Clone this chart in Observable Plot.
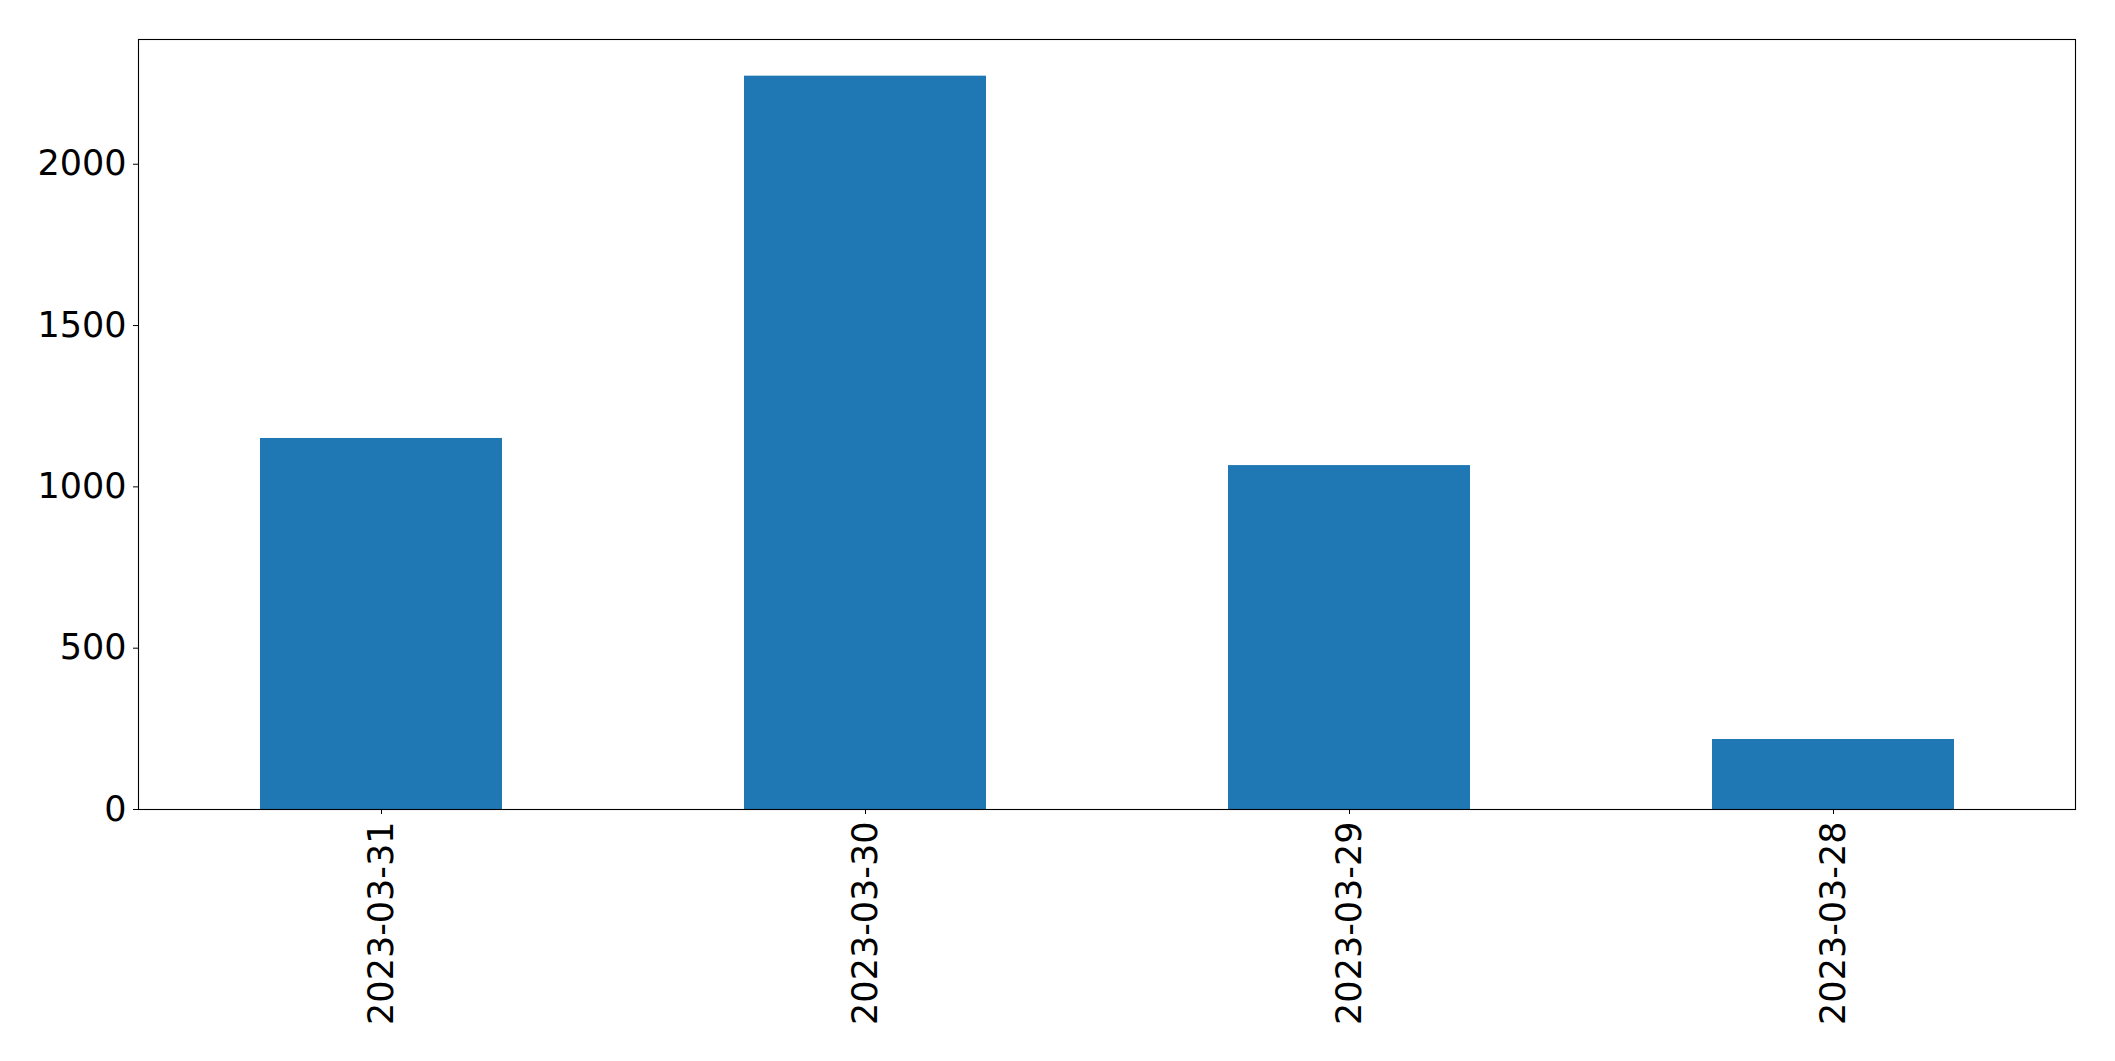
<!DOCTYPE html>
<html>
<head>
<meta charset="utf-8">
<script src="https://cdn.jsdelivr.net/npm/d3@7"></script>
<script src="https://cdn.jsdelivr.net/npm/@observablehq/plot@0.6"></script>
<style>
  html, body { margin: 0; padding: 0; background: #fff; }
  #chart svg { display: block; }
</style>
</head>
<body>
<div id="chart"></div>
<script>
const dates = ["2023-03-31", "2023-03-30", "2023-03-29", "2023-03-28"];
const counts = [1150, 2273, 1066, 217];
const yTicks = [0, 500, 1000, 1500, 2000];

const data = dates.map((d, i) => ({date: d, value: counts[i]}));
const yMax = d3.max(counts) * 1.05;

const chart = Plot.plot({
  width: 2115,
  height: 1061,
  marginLeft: 138,
  marginRight: 40,
  marginTop: 39,
  marginBottom: 252,
  style: {fontFamily: "DejaVu Sans", fontSize: "35px", color: "#000", background: "#fff"},
  x: {type: "band", domain: dates, paddingInner: 0.5, paddingOuter: 0.25, label: null},
  y: {domain: [0, yMax], label: null},
  marks: [
    Plot.barY(data, {x: "date", y: "value", fill: "#1f77b4"}),
    Plot.frame({stroke: "#000", strokeWidth: 1.1}),
    Plot.axisY({ticks: yTicks, tickFormat: d => String(d), tickSize: 5, tickPadding: 7, label: null, fontSize: 35, stroke: "#000"}),
    Plot.axisX({tickSize: 5, tickPadding: 7, tickRotate: -90, label: null, fontSize: 35, stroke: "#000"})
  ]
});
document.getElementById("chart").appendChild(chart);
</script>
</body>
</html>
